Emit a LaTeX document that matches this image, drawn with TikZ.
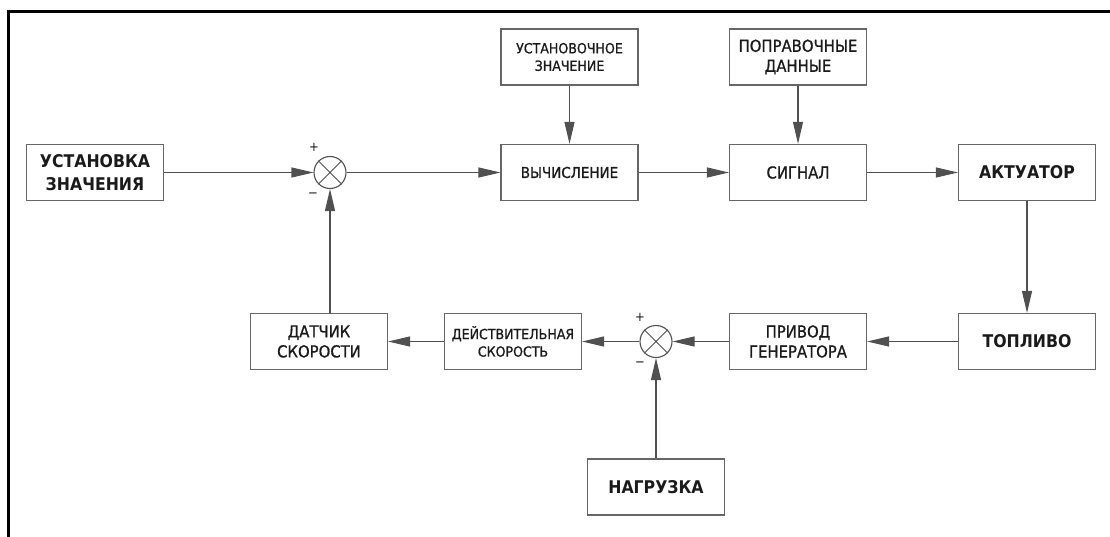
\documentclass[tikz,border=0pt]{standalone}
\usepackage{fontspec}
\setmainfont{DejaVu Sans Condensed}
\newfontfamily\medfont{DejaVu Sans Condensed}[FakeBold=0.9]
\usetikzlibrary{arrows.meta}
\definecolor{boxline}{HTML}{666666}
\definecolor{conn}{HTML}{505050}
\definecolor{txt}{HTML}{1A1A1A}
\tikzset{
  blk/.style={draw=boxline, line width=1.2pt, rectangle, align=center, text=txt, inner sep=0pt, minimum width=137pt, minimum height=56pt},
  bigtxt/.style={font=\fontsize{17.5}{23}\selectfont\bfseries},
  midtxt/.style={font=\medfont\fontsize{16.5}{20}\selectfont},
  calctxt/.style={font=\medfont\fontsize{15}{18}\selectfont},
  smalltxt/.style={font=\medfont\fontsize{14}{17.5}\selectfont},
  summer/.style={draw=conn, line width=1.1pt, circle, minimum size=32pt, inner sep=0pt},
  conn/.style={draw=conn, line width=1.1pt, -{Triangle[length=22pt,width=10pt]}},
  sign/.style={text=txt, font=\fontsize{13}{13}\selectfont, inner sep=0pt}
}
\begin{document}
\begin{tikzpicture}[x=1pt,y=-1pt]
\useasboundingbox (0,0) rectangle (1110,537);
% frame
\draw[line width=2.2pt, black] (8.5,537) -- (8.5,11.5) -- (1110,11.5);

% nodes
\node[blk,bigtxt] (setp) at (95,172.5) {УСТАНОВКА\\ЗНАЧЕНИЯ};
\node[summer] (s1) at (330,172.5) {};
\draw[draw=conn, line width=1pt] (s1.north west) -- (s1.south east) (s1.north east) -- (s1.south west);
\node[sign] (p1) at (314,147) {+};
\node[sign] (m1) at (313,195) {\textminus};

\node[blk,smalltxt] (ust) at (569.5,57) {УСТАНОВОЧНОЕ\\ЗНАЧЕНИЕ};
\node[blk,calctxt] (calc) at (569.5,172.5) {ВЫЧИСЛЕНИЕ};
\node[blk,midtxt] (popr) at (798,57) {ПОПРАВОЧНЫЕ\\ДАННЫЕ};
\node[blk,midtxt] (sig) at (798,172.5) {СИГНАЛ};
\node[blk,bigtxt] (act) at (1027,172.5) {АКТУАТОР};
\node[blk,bigtxt] (fuel) at (1027,341.5) {ТОПЛИВО};
\node[blk,midtxt] (drive) at (798,341.5) {ПРИВОД\\ГЕНЕРАТОРА};
\node[summer] (s2) at (656,341.5) {};
\draw[draw=conn, line width=1pt] (s2.north west) -- (s2.south east) (s2.north east) -- (s2.south west);
\node[sign] (p2) at (640,317) {+};
\node[sign] (m2) at (640,364) {\textminus};
\node[blk,bigtxt] (load) at (656,487) {НАГРУЗКА};
\node[blk,smalltxt] (real) at (513,341.5) {ДЕЙСТВИТЕЛЬНАЯ\\СКОРОСТЬ};
\node[blk,midtxt] (sens) at (319,341.5) {ДАТЧИК\\СКОРОСТИ};

% connectors
\draw[conn] (setp) -- (s1);
\draw[conn] (s1) -- (calc);
\draw[conn] (ust) -- (calc);
\draw[conn] (calc) -- (sig);
\draw[conn] (popr) -- (sig);
\draw[conn] (sig) -- (act);
\draw[conn] (act) -- (fuel);
\draw[conn] (fuel) -- (drive);
\draw[conn] (drive) -- (s2);
\draw[conn] (s2) -- (real);
\draw[conn] (real) -- (sens);
\draw[conn] (sens.north -| s1) -- (s1);
\draw[conn] (load) -- (s2);
\end{tikzpicture}
\end{document}
